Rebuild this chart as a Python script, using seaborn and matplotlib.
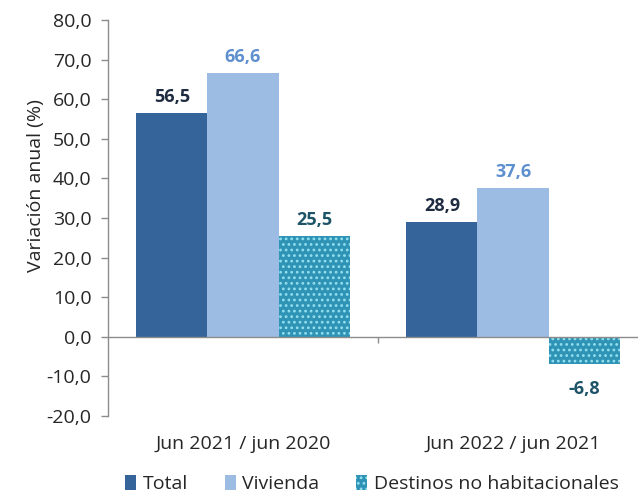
import matplotlib
matplotlib.use("Agg")
import matplotlib.pyplot as plt
import seaborn as sns
import pandas as pd
from matplotlib.patches import Patch
from matplotlib.ticker import FuncFormatter, MultipleLocator

periods = ["Jun 2021 / jun 2020", "Jun 2022 / jun 2021"]
series = ["Total", "Vivienda", "Destinos no habitacionales"]
total = [56.5, 28.9]
vivienda = [66.6, 37.6]
destinos = [25.5, -6.8]

colors = {"Total": "#34649A", "Vivienda": "#9CBCE4", "Destinos no habitacionales": "#2E93B4"}
label_colors = {"Total": "#1E2B40", "Vivienda": "#5E8FCF", "Destinos no habitacionales": "#1E5468"}
dot_color = "#93DFF0"

df = pd.DataFrame({
    "periodo": periods * 3,
    "serie": [s for s in series for _ in periods],
    "valor": total + vivienda + destinos,
})

sns.set_style("white")
plt.rcParams["font.family"] = ["Open Sans", "DejaVu Sans"]
plt.rcParams["hatch.linewidth"] = 1.2

FS = 14

fig = plt.figure(figsize=(6.38, 4.98), dpi=100)
ax = fig.add_axes([108 / 638, 82 / 498, 540 / 638, 396 / 498])

sns.barplot(data=df, x="periodo", y="valor", hue="serie", order=periods,
            hue_order=series, palette=colors, width=0.79, saturation=1,
            legend=False, ax=ax)

fmt = lambda v: f"{v:.1f}".replace(".", ",")

for cont, name in zip(ax.containers, series):
    for bar in cont:
        bar.set_linewidth(0)
        if name == "Destinos no habitacionales":
            bar.set_hatch("...")
            bar.set_edgecolor(dot_color)
        h = bar.get_height()
        xc = bar.get_x() + bar.get_width() / 2
        if h >= 0:
            ax.text(xc, h + 1.8, fmt(h), ha="center", va="bottom",
                    fontsize=FS - 1, fontweight="bold", color=label_colors[name])
        else:
            ax.text(xc, h - 4.0, fmt(h), ha="center", va="top",
                    fontsize=FS - 1, fontweight="bold", color=label_colors[name])

ax.set_xlim(-0.5, 1.5)
ax.set_ylim(-20, 80)
ax.yaxis.set_major_locator(MultipleLocator(10))
ax.yaxis.set_major_formatter(FuncFormatter(lambda v, p: fmt(v)))

for s in ["top", "right", "bottom"]:
    ax.spines[s].set_visible(False)
ax.spines["left"].set_color("#8C8C8C")
ax.spines["left"].set_linewidth(1)

ax.axhline(0, color="#8C8C8C", lw=1, zorder=3)
ax.vlines(0.5, -1.5, 0, color="#8C8C8C", lw=1, zorder=3)

ax.tick_params(axis="y", direction="out", length=5, width=1, color="#8C8C8C",
               pad=7, labelsize=FS, labelcolor="#262626", left=True)
ax.tick_params(axis="x", length=0, pad=14, labelsize=FS, labelcolor="#262626")

ax.set_xlabel("")
ax.set_ylabel("Variación anual (%)", fontsize=FS, color="#262626")
ax.yaxis.set_label_coords(-0.116, 0.583)

handles = [
    Patch(facecolor=colors["Total"], edgecolor="none", label="Total"),
    Patch(facecolor=colors["Vivienda"], edgecolor="none", label="Vivienda"),
    Patch(facecolor=colors["Destinos no habitacionales"], edgecolor=dot_color,
          hatch="...", linewidth=0, label="Destinos no habitacionales"),
]
fig.legend(handles=handles, loc="center", bbox_to_anchor=(372 / 638, 1 - 484 / 498),
           ncol=3, frameon=False, fontsize=FS, handlelength=0.55, handleheight=0.8,
           handletextpad=0.35, columnspacing=1.9, labelcolor="#262626")

fig.savefig("out.png", dpi=100)
